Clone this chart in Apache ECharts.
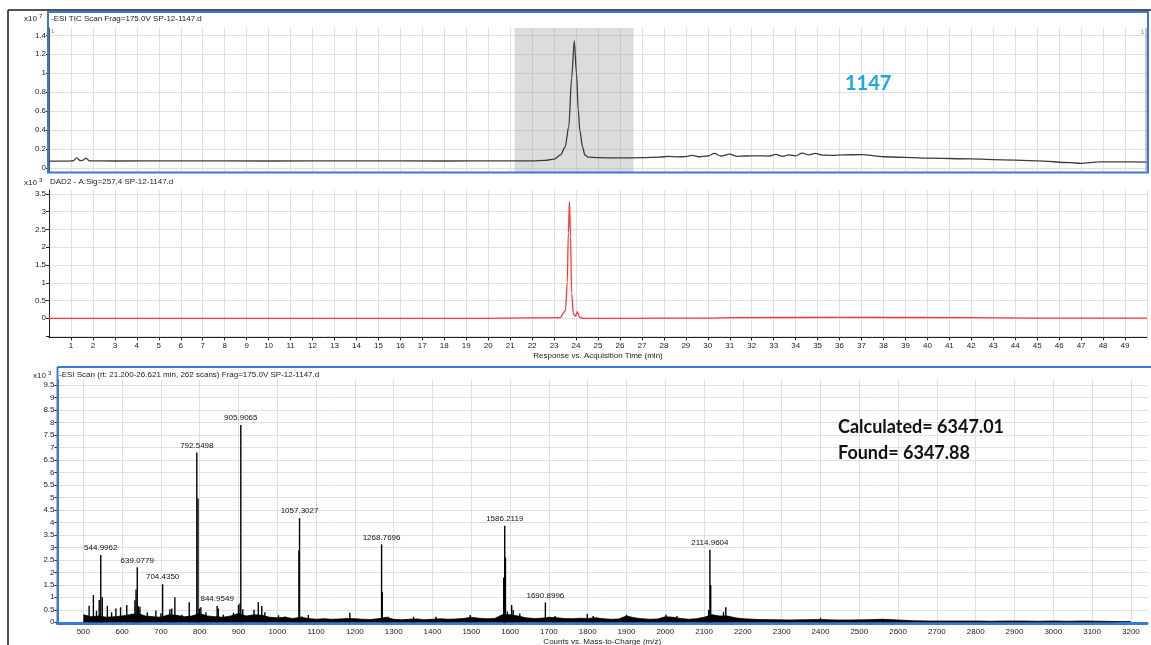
<!DOCTYPE html>
<html>
<head>
<meta charset="utf-8">
<script src="https://cdn.jsdelivr.net/npm/echarts@6/dist/echarts.min.js"></script>
<style>
  html, body { margin: 0; padding: 0; background: #fff; }
  #chart { width: 1151px; height: 645px; }
</style>
</head>
<body>
<div id="chart"></div>
<script>
// ---- TIC trace (x10^7 counts) vs acquisition time (min) ----
const ticTime = [0, 0.9, 1.1, 1.26, 1.42, 1.56, 1.68, 1.85, 3, 6, 10, 14, 18, 21, 22, 22.6, 23.0, 23.3, 23.5, 23.67, 23.8, 23.92, 24.02, 24.1, 24.17, 24.3, 24.4, 24.55, 25, 26, 27, 27.8, 28.2, 28.6, 29, 29.3, 29.6, 30, 30.3, 30.6, 31, 31.3, 31.7, 32.3, 32.8, 33.1, 33.4, 33.7, 34.0, 34.3, 34.6, 34.9, 35.2, 35.6, 36.2, 37.0, 38.0, 40, 42, 43, 45, 46.5, 47.0, 47.8, 49, 50];
const ticValue = [0.074, 0.074, 0.078, 0.108, 0.08, 0.085, 0.106, 0.076, 0.075, 0.076, 0.075, 0.076, 0.075, 0.076, 0.077, 0.082, 0.095, 0.14, 0.22, 0.44, 0.95, 1.34, 1.0, 0.62, 0.4, 0.22, 0.14, 0.115, 0.11, 0.108, 0.11, 0.115, 0.125, 0.118, 0.122, 0.135, 0.12, 0.128, 0.155, 0.128, 0.148, 0.125, 0.128, 0.13, 0.127, 0.145, 0.125, 0.14, 0.13, 0.158, 0.14, 0.155, 0.138, 0.135, 0.14, 0.142, 0.12, 0.105, 0.098, 0.09, 0.077, 0.058, 0.05, 0.065, 0.066, 0.064];

// Scan window used for the averaged spectrum (min)
const scanWindow = [21.2, 26.621];

// ---- DAD trace (x10^3) ----
const dadTime = [0, 10, 20, 23.3, 23.43, 23.52, 23.6, 23.65, 23.7, 23.75, 23.8, 23.88, 23.97, 24.06, 24.15, 24.3, 26, 30, 31, 36, 42, 45, 50];
const dadValue = [0, 0, 0, 0.02, 0.16, 0.22, 1.0, 2.4, 3.28, 2.3, 0.7, 0.12, 0.06, 0.19, 0.04, 0, 0, 0.005, 0.02, 0.025, 0.02, 0.005, 0.005];

// ---- Mass spectrum (x10^3 counts) ----
// labelled peaks: m/z and intensity
const peakMz = [544.9962, 639.0779, 704.4350, 792.5498, 844.9549, 905.9065, 1057.3027, 1268.7696, 1586.2119, 1690.8996, 2114.9604];
const peakCounts = [2.69, 2.2, 1.52, 6.8, 0.65, 7.9, 4.17, 3.12, 3.86, 0.79, 2.9];

// unlabelled sticks
const minorMz = [504, 515, 526, 534, 541, 549, 562, 573, 584, 596, 612, 625, 633, 636, 642, 646, 665, 687, 700, 723, 728, 736, 754, 773, 795.6, 799, 803, 816, 848, 861, 887, 900, 904, 911, 940, 951, 960, 968, 1003, 1020, 1055.8, 1063, 1080, 1187, 1270.5, 1286, 1351, 1409, 1497, 1583.5, 1588, 1593, 1604, 1608, 1625, 1716, 1799, 1814, 1900, 2002, 2030, 2112, 2117, 2125, 2150, 2156, 2400, 2560];
const minorCounts = [0.29, 0.66, 1.09, 0.46, 0.89, 1.0, 0.66, 0.4, 0.55, 0.6, 0.69, 0.34, 0.88, 1.31, 0.65, 0.62, 0.4, 0.47, 0.36, 0.52, 0.55, 1.0, 0.3, 0.8, 4.96, 0.55, 0.6, 0.4, 0.55, 0.3, 0.38, 0.69, 0.76, 0.52, 0.5, 0.8, 0.65, 0.4, 0.28, 0.23, 2.87, 0.23, 0.29, 0.38, 1.22, 0.22, 0.22, 0.22, 0.29, 1.79, 2.59, 0.43, 0.69, 0.49, 0.35, 0.25, 0.33, 0.25, 0.3, 0.3, 0.25, 0.5, 1.49, 0.3, 0.42, 0.6, 0.18, 0.12];

// noise floor under the sticks
const floorMz = [500, 520, 540, 560, 580, 600, 620, 640, 660, 680, 700, 720, 740, 760, 780, 800, 820, 840, 860, 880, 900, 920, 940, 960, 980, 1000, 1020, 1040, 1060, 1080, 1100, 1120, 1140, 1160, 1180, 1200, 1220, 1240, 1260, 1280, 1300, 1320, 1340, 1360, 1380, 1400, 1420, 1440, 1460, 1480, 1500, 1520, 1540, 1560, 1580, 1600, 1620, 1640, 1660, 1680, 1700, 1720, 1740, 1760, 1780, 1800, 1820, 1840, 1860, 1880, 1900, 1920, 1940, 1960, 1980, 2000, 2020, 2040, 2060, 2080, 2100, 2120, 2140, 2160, 2180, 2200, 2240, 2280, 2320, 2360, 2400, 2440, 2480, 2520, 2560, 2600, 2640, 2680, 2720, 2760, 2800, 2840, 2880, 2920, 2960, 3000, 3040, 3080, 3120, 3160, 3200];
const floorCounts = [0.3, 0.22, 0.25, 0.2, 0.22, 0.25, 0.3, 0.35, 0.25, 0.22, 0.2, 0.3, 0.28, 0.22, 0.25, 0.35, 0.25, 0.22, 0.2, 0.25, 0.35, 0.25, 0.3, 0.28, 0.2, 0.18, 0.2, 0.15, 0.2, 0.15, 0.12, 0.14, 0.12, 0.13, 0.15, 0.14, 0.12, 0.11, 0.14, 0.2, 0.12, 0.1, 0.12, 0.13, 0.1, 0.12, 0.14, 0.12, 0.13, 0.15, 0.2, 0.16, 0.14, 0.15, 0.3, 0.3, 0.25, 0.18, 0.15, 0.16, 0.2, 0.18, 0.15, 0.14, 0.16, 0.15, 0.18, 0.14, 0.12, 0.13, 0.25, 0.18, 0.14, 0.12, 0.13, 0.22, 0.2, 0.15, 0.12, 0.14, 0.2, 0.3, 0.25, 0.25, 0.18, 0.14, 0.11, 0.1, 0.09, 0.1, 0.11, 0.09, 0.09, 0.1, 0.12, 0.09, 0.06, 0.05, 0.05, 0.05, 0.05, 0.04, 0.05, 0.05, 0.04, 0.05, 0.04, 0.05, 0.04, 0.03, 0.03];

const zip = (a, b) => a.map((v, i) => [v, b[i]]);

const FONT = 'Liberation Sans';
const GRIDLINE = '#e0e0e0';
const BLUE = '#3a78d6';
const INK = '#222';

const stickData = minorMz.map((m, i) => [m, minorCounts[i]]).concat(
  peakMz.map((m, i) => ({
    value: [m, peakCounts[i]],
    label: {
      show: true, position: 'top', distance: 3,
      formatter: m.toFixed(4),
      fontSize: 8, fontFamily: FONT, color: '#111'
    }
  }))
);

function yAxisCommon(grid, min, max, step, lineColor, lineWidth) {
  return {
    type: 'value', gridIndex: grid, min: min, max: max,
    minInterval: step, maxInterval: step,
    axisLine: { show: true, lineStyle: { color: lineColor, width: lineWidth } },
    axisTick: { show: true, length: 3, lineStyle: { color: INK } },
    axisLabel: {
      fontSize: 8, fontFamily: FONT, color: INK, margin: 3,
      showMinLabel: false, showMaxLabel: false,
      formatter: v => (v < 0 ? '' : String(v))
    },
    splitLine: { show: true, showMinLine: false, showMaxLine: false, lineStyle: { color: GRIDLINE, width: 1 } }
  };
}

const smallText = (x, y, text, size, extra) => ({
  type: 'text', x: x, y: y, z: 110,
  style: Object.assign({ text: text, fontSize: size || 8, fontFamily: FONT, fill: INK, textVerticalAlign: 'middle' }, extra || {})
});

const option = {
  animation: false,
  backgroundColor: '#fff',
  textStyle: { fontFamily: FONT },
  grid: [
    { left: 49, top: 28, width: 1098, height: 144.5, outerBoundsMode: 'none' },
    { left: 49, top: 190, width: 1098, height: 147.3, outerBoundsMode: 'none' },
    { left: 57.5, top: 380, width: 1089.5, height: 243, outerBoundsMode: 'none' }
  ],
  xAxis: [
    {
      type: 'value', gridIndex: 0, min: 0, max: 50, interval: 1,
      axisLine: { show: false }, axisTick: { show: false }, axisLabel: { show: false },
      splitLine: { show: true, lineStyle: { color: GRIDLINE, width: 1 } }
    },
    {
      type: 'value', gridIndex: 1, min: 0, max: 50, interval: 1,
      axisLine: { show: true, onZero: false, lineStyle: { color: INK, width: 1 } },
      axisTick: { show: true, length: 3, lineStyle: { color: INK } },
      axisLabel: { fontSize: 8, fontFamily: FONT, color: INK, margin: 4, showMinLabel: false, showMaxLabel: false },
      splitLine: { show: true, lineStyle: { color: GRIDLINE, width: 1 } },
      name: 'Response vs. Acquisition Time (min)', nameLocation: 'middle', nameGap: 14,
      nameTextStyle: { fontSize: 8, fontFamily: FONT, color: INK }
    },
    {
      type: 'value', gridIndex: 2, min: 433.5, max: 3241.5, minInterval: 100, maxInterval: 100,
      axisLine: { show: true, onZero: false, lineStyle: { color: BLUE, width: 3 } },
      axisTick: { show: false },
      axisLabel: {
        fontSize: 8, fontFamily: FONT, color: INK, margin: 5, showMinLabel: false, showMaxLabel: false,
        formatter: v => String(v)
      },
      splitLine: { show: true, showMinLine: false, showMaxLine: false, lineStyle: { color: GRIDLINE, width: 1 } },
      name: 'Counts vs. Mass-to-Charge (m/z)', nameLocation: 'middle', nameGap: 15,
      nameTextStyle: { fontSize: 8, fontFamily: FONT, color: INK }
    }
  ],
  yAxis: [
    yAxisCommon(0, -0.046, 1.477, 0.2, '#555', 1),
    yAxisCommon(1, -0.535, 3.61, 0.5, INK, 1),
    yAxisCommon(2, -0.03, 9.7, 0.5, BLUE, 2)
  ],
  series: [
    {
      name: 'TIC', type: 'line', xAxisIndex: 0, yAxisIndex: 0,
      data: zip(ticTime, ticValue), symbol: 'none', smooth: 0.3, smoothMonotone: 'x',
      lineStyle: { color: '#3c3c3c', width: 1.3 },
      markArea: {
        silent: true,
        itemStyle: { color: 'rgba(150,150,150,0.33)' },
        data: [[{ xAxis: scanWindow[0] }, { xAxis: scanWindow[1] }]]
      }
    },
    {
      name: 'DAD', type: 'line', xAxisIndex: 1, yAxisIndex: 1,
      data: zip(dadTime, dadValue), symbol: 'none', smooth: 0.3, smoothMonotone: 'x',
      lineStyle: { color: '#ff3636', width: 1.3 }
    },
    {
      name: 'floor', type: 'line', xAxisIndex: 2, yAxisIndex: 2,
      data: zip(floorMz, floorCounts), symbol: 'none',
      lineStyle: { color: '#000', width: 0.8 },
      areaStyle: { color: '#000', opacity: 1 }
    },
    {
      name: 'spectrum', type: 'bar', xAxisIndex: 2, yAxisIndex: 2,
      data: stickData, barWidth: 1.4,
      itemStyle: { color: '#000' }
    }
  ],
  graphic: {
    elements: [
      // outer frame
      { type: 'line', z: 100, shape: { x1: 8, y1: 10, x2: 1151, y2: 10 }, style: { stroke: '#1a1a1a', lineWidth: 1.5 } },
      { type: 'line', z: 100, shape: { x1: 8, y1: 10, x2: 8, y2: 645 }, style: { stroke: '#1a1a1a', lineWidth: 1.5 } },
      // TIC panel frame
      { type: 'rect', z: 100, shape: { x: 48, y: 12, width: 1100, height: 160.5 }, style: { fill: null, stroke: BLUE, lineWidth: 2 } },
      { type: 'line', z: 99, shape: { x1: 1146, y1: 28, x2: 1146, y2: 171 }, style: { stroke: '#8a8a8a', lineWidth: 1 } },
      smallText(51, 31, '1', 6, { fill: '#777' }),
      smallText(1141, 32, '1', 6, { fill: '#777' }),
      // spectrum panel frame
      { type: 'line', z: 100, shape: { x1: 57.5, y1: 367, x2: 1151, y2: 367 }, style: { stroke: BLUE, lineWidth: 2 } },
      { type: 'line', z: 100, shape: { x1: 57.5, y1: 367, x2: 57.5, y2: 623 }, style: { stroke: BLUE, lineWidth: 2 } },

      // panel titles and scale factors
      smallText(24, 19, 'x10', 8),
      smallText(39, 16, '7', 6),
      smallText(51, 19, '-ESI TIC Scan Frag=175.0V SP-12-1147.d', 8),
      smallText(24, 183, 'x10', 8),
      smallText(39, 180, '3', 6),
      smallText(50, 182, 'DAD2 - A:Sig=257,4 SP-12-1147.d', 8),
      smallText(33, 376, 'x10', 8),
      smallText(48, 373, '3', 6),
      smallText(59, 375, '-ESI Scan (rt: 21.200-26.621 min, 262 scans) Frag=175.0V SP-12-1147.d', 8),

      // annotations
      smallText(845, 84, '1147', 20, { fontFamily: 'Lato', fontWeight: 'bold', fill: '#1ea5e6' }),
      smallText(838, 427, 'Calculated= 6347.01', 18, { fontFamily: 'Lato', fontWeight: 'bold', fill: '#111' }),
      smallText(838, 453, 'Found= 6347.88', 18, { fontFamily: 'Lato', fontWeight: 'bold', fill: '#111' })
    ]
  }
};

const chart = echarts.init(document.getElementById('chart'), null, { renderer: 'canvas' });
chart.setOption(option);
</script>
</body>
</html>
